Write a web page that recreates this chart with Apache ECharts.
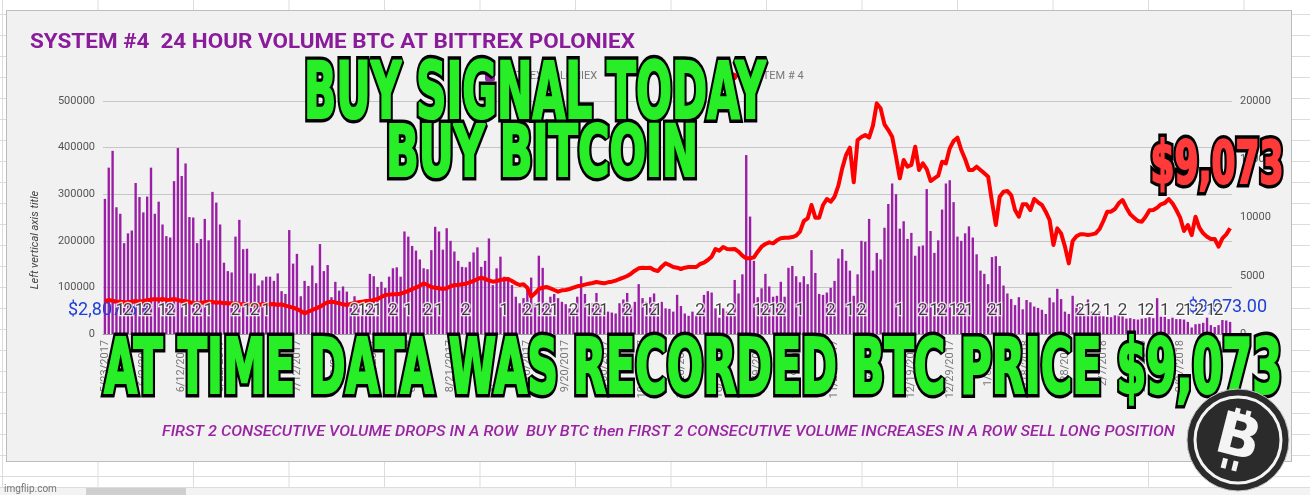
<!DOCTYPE html>
<html>
<head>
<meta charset="utf-8">
<script src="https://cdn.jsdelivr.net/npm/echarts@6.0.0/dist/echarts.min.js"></script>
<style>
html,body{margin:0;padding:0;}
body{width:1310px;height:495px;overflow:hidden;position:relative;background:#fff;
 background-image:linear-gradient(to bottom,#dcdcdc 1px,transparent 1px),linear-gradient(to right,#dcdcdc 1px,transparent 1px);
 background-size:100% 21px,95.5px 100%;background-position:0 14px,2px 0;}
.card{position:absolute;left:6px;top:10px;width:1286px;height:452px;background:#f1f1f1;border:1px solid #bcbcbc;box-sizing:border-box;}
.sbar{position:absolute;left:0;top:487px;width:1310px;height:8px;background:#f3f3f3;border-top:1px solid #ddd;}
.thumb{position:absolute;left:86px;top:488px;width:100px;height:7px;background:#cfcfcf;}
#chart{position:absolute;left:0;top:0;width:1310px;height:495px;}
</style>
</head>
<body>
<div class="card"></div>
<div class="sbar"></div><div class="thumb"></div>
<div id="chart"></div>
<script>
// ---------- DATA ----------
const startDate = [2017, 4, 23]; // 5/23/2017, daily rows
const volume = [
 290000,357000,393000,272000,258000,195000,216000,222000,324000,294000,
 261000,295000,357000,258000,284000,235000,210000,207000,328000,399000,
 339000,366000,251000,250000,195000,204000,247000,201000,305000,282000,
 235000,153000,135000,132000,209000,245000,182000,183000,130000,130000,
 104000,115000,123000,123000,114000,130000,92000,86000,223000,151000,
 172000,81000,114000,103000,147000,109000,193000,135000,148000,79000,
 112000,93000,102000,91000,66000,81000,69000,55000,52000,129000,
 124000,101000,112000,99000,
 123000,141000,143000,123000,220000,209000,189000,179000,160000,141000,
 139000,180000,230000,220000,181000,227000,200000,177000,157000,144000,
 143000,155000,175000,186000,144000,157000,205000,105000,141000,166000,
 123000,121000,105000,80000,66000,77000,98000,121000,66000,168000,
 142000,69000,80000,86000,77000,69000,64000,55000,55000,80000,
 124000,86000,55000,66000,88000,66000,48000,48000,46000,44000,
 66000,74000,88000,59000,69000,107000,77000,69000,79000,87000,
 66000,69000,55000,54000,
 48000,84000,60000,44000,39000,48000,41000,48000,84000,92000,
 89000,55000,35000,55000,48000,44000,116000,87000,128000,384000,
 252000,157000,79000,98000,129000,102000,80000,82000,112000,80000,
 142000,146000,124000,111000,124000,107000,180000,131000,86000,84000,
 89000,99000,114000,162000,182000,157000,136000,82000,128000,200000,
 198000,247000,136000,174000,160000,228000,279000,323000,300000,226000,
 242000,204000,217000,168000,188000,190000,311000,221000,174000,201000,
 267000,323000,330000,283000,
 209000,200000,216000,231000,207000,171000,136000,129000,107000,165000,
 167000,146000,104000,87000,75000,62000,79000,53000,73000,68000,
 59000,56000,52000,43000,78000,68000,97000,75000,48000,43000,
 82000,64000,58000,43000,74000,48000,41000,48000,38000,37000,
 36000,40000,41000,38000,33000,34000,32000,31000,33000,34000,
 36000,34000,77000,37000,37000,32000,35000,32000,32000,31000,
 26000,14000,21000,22000,24000,35000,19000,15000,19000,30000,
 29000,26000
];
const price = [
 2807,2918,2861,2775,2775,2718,2718,2775,2832,2775,
 2832,2890,2947,3004,2947,3004,2918,2947,3004,2918,
 2832,2832,2718,2661,2632,2661,2718,2775,2747,2689,
 2718,2632,2661,2604,2632,2575,2546,2575,2489,2546,
 2489,2546,2575,2546,2575,2489,2546,2432,2346,2260,
 2146,1974,1774,1917,2060,2203,2346,2546,2718,2775,
 2718,2632,2546,2489,2575,2661,2718,2775,2832,2832,
 2918,3004,3176,3347,
 3380,3405,3405,3462,3576,3691,3862,3977,4148,4349,
 4206,4034,3977,3920,3862,3920,4091,4206,4206,4263,
 4320,4435,4549,4721,4835,4721,4606,4492,4549,4635,
 4692,4721,4549,4349,4206,4263,3977,3204,3490,3862,
 3977,4034,3920,3777,3633,3748,3777,3862,3977,4091,
 4148,4234,4320,4377,4463,4406,4349,4435,4492,4578,
 4721,4835,4978,5178,5436,5636,5693,5664,5693,5493,
 5407,5779,6065,5922,
 5750,5693,5579,5693,5750,5750,5750,6008,6123,6351,
 6638,7296,7153,7467,7296,7267,7296,7067,6723,6494,
 6494,6580,7067,7496,7725,7868,7782,8039,8211,8268,
 8268,8325,8440,8783,9699,9928,11072,9985,9985,11072,
 11587,11358,11787,12731,14219,15363,15993,13018,16651,16909,
 17080,16852,17881,19798,19369,17996,17509,16937,15221,13361,
 14934,14362,14505,16079,14076,14648,14162,13132,13361,13590,
 14791,14648,15936,16565,
 16852,15793,15020,14076,14076,14362,14076,13790,13504,11358,
 9355,11787,12216,12274,11930,10643,10071,11129,11129,10643,
 11587,11301,11072,10500,9785,7639,9069,8640,7496,6065,
 7982,8383,8554,8554,8497,8554,8640,9012,9699,10500,
 10500,10729,11215,11501,10843,10271,9985,9699,9642,10071,
 10614,10643,10843,11129,11244,11587,11215,10643,9985,8840,
 9355,8497,10071,9127,8640,8354,8154,8154,7496,8211,
 8554,9073
];
// signal annotations: category index and label text
const signalIdx = [4,6,9,11,15,17,21,24,27,34,37,39,42,
 65,67,69,71,
 75,79,84,87,94,104,110,113,115,117,122,126,128,130,136,141,143,144,
 155,160,163,170,172,174,176,181,189,194,197,207,213,216,218,221,223,225,231,233,
 254,256,258,261,265,270,272,276,280,282,285,288,290];
const signalText = ['1','2','1','2','1','2','1','2','1','2','1','2','1',
 '2','1','2','1',
 '2','1','2','1','2','1','2','1','2','1','2','1','2','1','2','1','2','1',
 '2','1','2','1','2','1','2','1','2','1','2','1','2','1','2','1','2','1','2','1',
 '2','1','2','1','2','1','2','1','2','1','2','1','2'];
const signalLevel = 49000;
const leftTicks = {min:0, max:500000, interval:100000};
const rightTicks = {min:0, max:20000, interval:5000};

// categories (daily dates)
const categories = [];
for (let i = 0; i < volume.length; i++) {
  const d = new Date(Date.UTC(startDate[0], startDate[1], startDate[2] + i));
  categories.push((d.getUTCMonth()+1) + '/' + d.getUTCDate() + '/' + d.getUTCFullYear());
}

// ---------- helpers ----------
const mctx = document.createElement('canvas').getContext('2d');
function fitScale(text, st, targetW) {
  mctx.font = (st.fontStyle||'normal') + ' ' + (st.fontWeight||'normal') + ' ' + st.fontSize + 'px ' + st.fontFamily;
  return targetW / mctx.measureText(text).width;
}
const bigFamily = "'Liberation Sans Narrow','DejaVu Sans Condensed','Liberation Sans',sans-serif";
function bigText(text, cx, cy, width, size, fill) {
  const base = {text: text, fontFamily: bigFamily, fontWeight: 'bold', fontSize: size,
                align: 'center', verticalAlign: 'middle'};
  const s = fitScale(text, {fontFamily: bigFamily, fontWeight: 'bold', fontSize: size}, width);
  return [
    {type:'text', x: cx, y: cy, scaleX: s, z: 100,
     style: Object.assign({}, base, {fill:'#000', stroke:'#000', lineWidth: 9, lineJoin:'round',
        shadowBlur: 12, shadowColor: 'rgba(0,0,0,0.8)'})},
    {type:'text', x: cx, y: cy, scaleX: s, z: 101,
     style: Object.assign({}, base, {fill: fill, stroke: fill, lineWidth: 2.2, lineJoin:'round'})}
  ];
}
function fitText(text, x, y, width, st, z) {
  const s = fitScale(text, st, width);
  return {type:'text', x: x, y: y, scaleX: s, z: z||50,
    style: Object.assign({text: text, align:'left', verticalAlign:'middle'}, st)};
}

const titleSt = {fontFamily:'Roboto', fontWeight:'bold', fontSize:20, fill:'#8a1b9b'};
const footSt = {fontFamily:'Roboto', fontWeight:'500', fontStyle:'italic', fontSize:14, fill:'#9a22a4'};

const graphics = [
  fitText('SYSTEM #4  24 HOUR VOLUME BTC AT BITTREX POLONIEX', 30, 43, 605, titleSt, 50),
  {type:'text', x:35, y:240, rotation: Math.PI/2, z:50,
   style:{text:'Left vertical axis title', fontFamily:'Roboto', fontStyle:'italic', fontSize:11, fill:'#444', align:'center', verticalAlign:'middle'}},
  {type:'text', x:68, y:310, z:3,
   style:{text:'$2,807.50', fontFamily:'Roboto', fontSize:18, fill:'#1f3fd6', align:'left', verticalAlign:'middle'}},
  {type:'text', x:1188, y:307, z:3,
   style:{text:'$9,073.00', fontFamily:'Roboto', fontSize:18, fill:'#1f3fd6', align:'left', verticalAlign:'middle'}},
  fitText('FIRST 2 CONSECUTIVE VOLUME DROPS IN A ROW  BUY BTC then FIRST 2 CONSECUTIVE VOLUME INCREASES IN A ROW SELL LONG POSITION', 162, 432, 1013, footSt, 50),
  {type:'text', x:4, y:489, z:50,
   style:{text:'imgflip.com', fontFamily:'Roboto', fontSize:10, fill:'#777', align:'left', verticalAlign:'middle'}}
].concat(
  bigText('BUY SIGNAL TODAY', 535, 98, 462, 78, '#27ee27'),
  bigText('BUY BITCOIN', 542, 157, 312, 72, '#27ee27'),
  bigText('$9,073', 1217, 168, 133, 59, '#ff3a3a'),
  bigText('AT TIME DATA WAS RECORDED BTC PRICE $9,073', 693, 373, 1178, 76, '#27ee27'),
  [{type:'group', x:1238, y:440, z:120, children:[
    {type:'circle', shape:{cx:0, cy:0, r:51}, z:120, style:{fill:'#2b2b2b', stroke:'#c4c4c4', lineWidth:1}},
    {type:'circle', shape:{cx:0, cy:0, r:43}, z:121, style:{fill:'none', stroke:'#f4f4f4', lineWidth:3}},
    {type:'group', rotation:-0.25, children:[
      {type:'text', x:0, y:1, z:122, style:{text:'B', fontFamily:'DejaVu Sans', fontWeight:'bold', fontSize:58, fill:'#f4f4f4', align:'center', verticalAlign:'middle'}},
      {type:'rect', shape:{x:-10, y:-31, width:5, height:10}, z:122, style:{fill:'#f4f4f4'}},
      {type:'rect', shape:{x:1, y:-31, width:5, height:10}, z:122, style:{fill:'#f4f4f4'}},
      {type:'rect', shape:{x:-10, y:21, width:5, height:10}, z:122, style:{fill:'#f4f4f4'}},
      {type:'rect', shape:{x:1, y:21, width:5, height:10}, z:122, style:{fill:'#f4f4f4'}}
    ]}
  ]}]
);

const chart = echarts.init(document.getElementById('chart'), null, {renderer:'canvas'});
chart.setOption({
  backgroundColor: 'transparent',
  animation: false,
  grid: {left:103, right:78, top:101, bottom:161},
  legend: {
    data: ['BITTREX POLONIEX', 'SYSTEM # 4'],
    top: 66, left: 480, itemGap: 130, itemWidth: 10, itemHeight: 10,
    textStyle: {color:'#777', fontSize: 11, fontFamily:'Roboto'}
  },
  xAxis: {
    type: 'category', data: categories, boundaryGap: true,
    axisTick: {show:false},
    axisLine: {lineStyle: {color:'#9e9e9e'}},
    axisLabel: {rotate: 90, interval: 9, color:'#777', fontSize: 11, fontFamily:'Roboto', margin: 6}
  },
  yAxis: [
    {type:'value', min: leftTicks.min, max: leftTicks.max, interval: leftTicks.interval,
     axisLine:{show:false}, axisTick:{show:false},
     axisLabel:{color:'#555', fontSize:11, fontFamily:'Roboto', margin:8, formatter: function(v){ return String(v); }},
     splitLine:{lineStyle:{color:'#c6c6c6'}}},
    {type:'value', position:'right', min: rightTicks.min, max: rightTicks.max, interval: rightTicks.interval,
     axisLine:{show:false}, axisTick:{show:false},
     axisLabel:{color:'#555', fontSize:11, fontFamily:'Roboto', margin:8, formatter: function(v){ return String(v); }},
     splitLine:{show:false}}
  ],
  series: [
    {name:'BITTREX POLONIEX', type:'bar', data: volume, yAxisIndex: 0,
     barCategoryGap:'38%', itemStyle:{color:'#9b1fa6'}, z:2},
    {name:'SYSTEM # 4', type:'line', data: price, yAxisIndex: 1,
     showSymbol:false, symbol:'none', smooth:false,
     lineStyle:{color:'#ff0000', width:4, join:'round'}, itemStyle:{color:'#ff0000'}, z:4},
    {name:'signals', type:'scatter', yAxisIndex: 0, symbolSize: 0, z: 6,
     data: signalIdx.map(function(i){ return [i, signalLevel]; }),
     label: {show:true, position:'inside',
       formatter: function(p){ return signalText[p.dataIndex]; },
       color:'#111', fontSize:17, fontFamily:'Roboto',
       textBorderColor:'#fff', textBorderWidth:2.5}}
  ],
  graphic: graphics
});
</script>
</body>
</html>
